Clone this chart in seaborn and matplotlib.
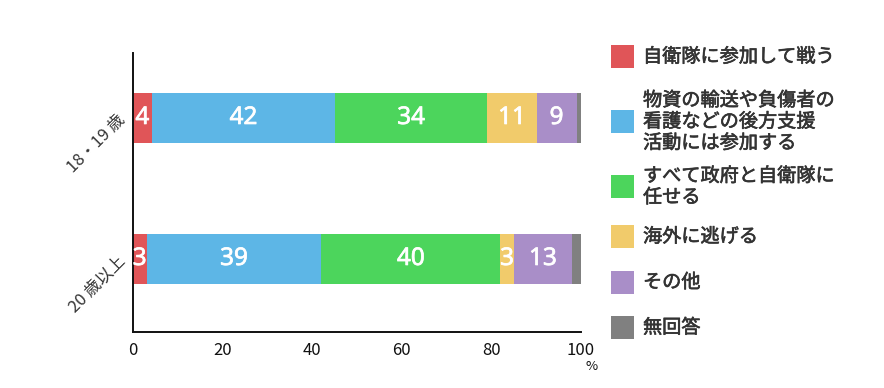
import matplotlib
matplotlib.use("Agg")
import matplotlib.pyplot as plt
import matplotlib.patheffects as pe
import seaborn as sns
import pandas as pd
import numpy as np
from matplotlib.patches import Rectangle

# ---- data ----
groups = ["18・19 歳", "20 歳以上"]
answers = ["自衛隊に参加して戦う",
           "物資の輸送や負傷者の\n看護などの後方支援\n活動には参加する",
           "すべて政府と自衛隊に\n任せる",
           "海外に逃げる",
           "その他",
           "無回答"]
# bar widths (%)
row_18_19 = [4.3, 40.8, 34.0, 11.0, 8.9, 1.0]
row_20plus = [3.1, 39.0, 39.9, 3.0, 13.0, 2.0]
# numbers printed in the bars
labels_18_19 = ["4", "42", "34", "11", "9", ""]
labels_20plus = ["3", "39", "40", "3", "13", ""]
colors = ["#E05558", "#5DB6E6", "#4CD55C", "#F1CB6B", "#A98EC8", "#808080"]
xticks = [0, 20, 40, 60, 80, 100]

sns.set_theme(style="white")
plt.rcParams["font.family"] = ["Noto Sans CJK JP", "DejaVu Sans"]

W, H = 884, 388
fig = plt.figure(figsize=(W / 100, H / 100), dpi=100)
ax = fig.add_axes([132.7 / W, 1 - 332.3 / H, 448.3 / W, (332.3 - 52.7) / H])

rows = [row_18_19, row_20plus]
labs = [labels_18_19, labels_20plus]
recs = []
for g, vals in zip(groups, rows):
    cum = np.cumsum(vals)
    for a, c in zip(answers, cum):
        recs.append({"group": g, "answer": a, "cum": c})
df = pd.DataFrame(recs)

# draw cumulative bars from the last (longest) segment to the first
for a, col in reversed(list(zip(answers, colors))):
    sub = df[df["answer"] == a]
    sns.barplot(data=sub, x="cum", y="group", order=groups, color=col,
                width=0.358, saturation=1, ax=ax, edgecolor="none",
                linewidth=0)

# segment labels
white_fx = [pe.withStroke(linewidth=0.5, foreground="white")]
for i, (vals, lb) in enumerate(zip(rows, labs)):
    cum = np.cumsum(vals)
    starts = cum - np.array(vals)
    for s, v, t in zip(starts, vals, lb):
        if t:
            ax.text(s + v / 2, i, t, ha="center", va="center", color="white",
                    fontsize=17.5, family=["Noto Sans", "DejaVu Sans"],
                    fontweight="normal", path_effects=white_fx)

ax.set_xlim(0, 100)
ax.set_ylim(1.52, -0.463)
ax.set_xticks(xticks)
ax.set_xticklabels([str(x) for x in xticks], fontsize=12, color="#111111")
ax.set_xlabel("")
ax.set_ylabel("")
ax.tick_params(axis="x", length=0, pad=7)
ax.tick_params(axis="y", length=0, pad=7)
for lab in ax.get_yticklabels():
    lab.set_rotation(45)
    lab.set_ha("right")
    lab.set_va("center")
    lab.set_rotation_mode("anchor")
    lab.set_fontsize(12)
    lab.set_color("#333333")
for sp in ["top", "right"]:
    ax.spines[sp].set_visible(False)
for sp in ["left", "bottom"]:
    ax.spines[sp].set_color("#111111")
    ax.spines[sp].set_linewidth(1.4)

fig.text(591.7 / W, 1 - 366.7 / H, "%", ha="center", va="center",
         fontsize=9.5, color="#111111")

# legend (manual)
leg_fx = [pe.withStroke(linewidth=0.45, foreground="#333333")]
leg_y = [56.7, 121.7, 186.7, 236.7, 282.3, 327.7]
for a, col, yc in zip(answers, colors, leg_y):
    fig.add_artist(Rectangle((611 / W, 1 - (yc + 11.5) / H), 23 / W, 23 / H,
                             transform=fig.transFigure, facecolor=col,
                             edgecolor="none"))
    fig.text(643 / W, 1 - yc / H, a, ha="left", va="center", fontsize=13.8,
             color="#333333", linespacing=1.02, fontweight="normal",
             path_effects=leg_fx)

fig.savefig("out.png", dpi=100)
